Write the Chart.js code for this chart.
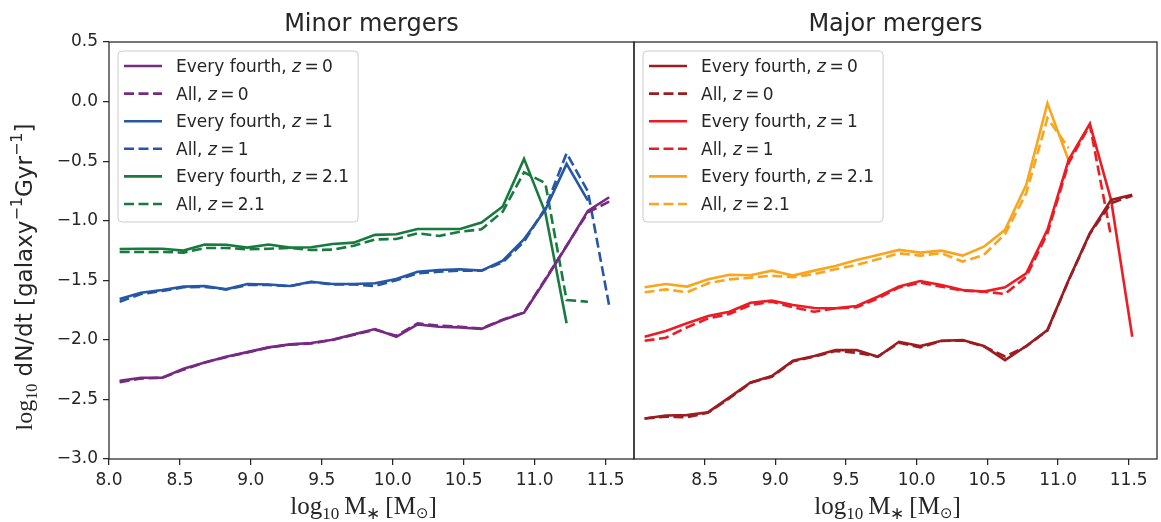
<!DOCTYPE html>
<html>
<head>
<meta charset="utf-8">
<script src="https://cdn.jsdelivr.net/npm/chart.js@4"></script>
<style>
  body { margin: 0; background: #fff; }
  #wrap { position: relative; width: 1161px; height: 522px; }
  .pane { position: absolute; top: 0; height: 522px; }
</style>
</head>
<body>
<div id="wrap">
  <div class="pane" style="left:0;width:640px"><canvas id="minorChart"></canvas></div>
  <div class="pane" style="left:620px;width:541px"><canvas id="majorChart"></canvas></div>
</div>
<script>
// stellar mass bins, log10 M*
const massBins = [8.075, 8.225, 8.375, 8.525, 8.675, 8.825, 8.975, 9.125, 9.275, 9.425, 9.575, 9.725,
  9.875, 10.025, 10.175, 10.325, 10.475, 10.625, 10.775, 10.925, 11.075, 11.225, 11.375, 11.525];

// minor mergers
const minorFourthZ0 = [-2.344, -2.318, -2.318, -2.243, -2.19, -2.142, -2.103, -2.063, -2.038, -2.027, -1.999, -1.954,
  -1.909, -1.974, -1.870, -1.89, -1.895, -1.909, -1.834, -1.772, -1.497, -1.212, -0.918, -0.803];
const minorAllZ0 = [-2.355, -2.325, -2.318, -2.25, -2.19, -2.145, -2.105, -2.065, -2.04, -2.03, -2.0, -1.958,
  -1.915, -1.965, -1.862, -1.88, -1.89, -1.905, -1.83, -1.77, -1.49, -1.21, -0.93, -0.84];
const minorFourthZ1 = [-1.657, -1.604, -1.581, -1.553, -1.548, -1.576, -1.531, -1.536, -1.548, -1.512, -1.531, -1.531,
  -1.525, -1.49, -1.428, -1.414, -1.408, -1.419, -1.335, -1.155, -0.909, -0.523, -0.831];
const minorAllZ1 = [-1.68, -1.615, -1.59, -1.559, -1.555, -1.576, -1.54, -1.54, -1.55, -1.515, -1.535, -1.535,
  -1.548, -1.50, -1.442, -1.428, -1.419, -1.419, -1.35, -1.175, -0.895, -0.433, -0.755, -1.713];
const minorFourthZ21 = [-1.237, -1.235, -1.235, -1.251, -1.20, -1.202, -1.226, -1.20, -1.226, -1.223, -1.195, -1.184,
  -1.119, -1.114, -1.069, -1.069, -1.069, -1.016, -0.881, -0.481, -0.932, -1.861];
const minorAllZ21 = [-1.262, -1.262, -1.262, -1.268, -1.229, -1.229, -1.24, -1.235, -1.229, -1.246, -1.243, -1.21,
  -1.157, -1.153, -1.105, -1.128, -1.092, -1.072, -0.923, -0.593, -0.685, -1.666, -1.68];

// major mergers
const majorFourthZ0 = [-2.66, -2.635, -2.632, -2.607, -2.483, -2.357, -2.304, -2.176, -2.136, -2.086, -2.086, -2.142,
  -2.016, -2.052, -2.007, -2.002, -2.052, -2.17, -2.052, -1.918, -1.497, -1.105, -0.825, -0.783];
const majorAllZ0 = [-2.66, -2.645, -2.65, -2.61, -2.49, -2.36, -2.31, -2.18, -2.14, -2.094, -2.108, -2.14,
  -2.025, -2.063, -2.01, -2.005, -2.055, -2.14, -2.055, -1.92, -1.5, -1.11, -0.853, -0.79];
const majorFourthZ1 = [-1.974, -1.926, -1.861, -1.80, -1.764, -1.688, -1.671, -1.708, -1.733, -1.736, -1.716, -1.638,
  -1.553, -1.506, -1.54, -1.581, -1.595, -1.559, -1.441, -1.077, -0.489, -0.187, -0.825, -1.974];
const majorAllZ1 = [-2.008, -1.982, -1.895, -1.82, -1.783, -1.708, -1.68, -1.727, -1.764, -1.736, -1.727, -1.652,
  -1.56, -1.52, -1.553, -1.587, -1.595, -1.615, -1.47, -1.105, -0.517, -0.195, -1.134];
const majorFourthZ21 = [-1.559, -1.531, -1.553, -1.492, -1.453, -1.458, -1.419, -1.461, -1.419, -1.38, -1.329, -1.287,
  -1.245, -1.268, -1.251, -1.293, -1.218, -1.077, -0.699, -0.015, -0.495];
const majorAllZ21 = [-1.601, -1.576, -1.601, -1.525, -1.492, -1.478, -1.461, -1.475, -1.447, -1.408, -1.371, -1.324,
  -1.273, -1.293, -1.273, -1.343, -1.287, -1.111, -0.769, -0.139, -0.391];

const redshifts = ['0', '1', '2.1'];
const xTicks = [8.0, 8.5, 9.0, 9.5, 10.0, 10.5, 11.0, 11.5];
const yTicks = [-3.0, -2.5, -2.0, -1.5, -1.0, -0.5, 0.0, 0.5];

const INK = '#262626';
Chart.defaults.font.family = 'DejaVu Sans';
Chart.defaults.font.size = 17;
Chart.defaults.color = INK;
Chart.defaults.animation = false;

function series(vals, color, dashed, prefix, z) {
  return {
    data: vals.map((v, i) => ({x: massBins[i], y: v})),
    borderColor: color,
    backgroundColor: color,
    borderWidth: 2.6,
    borderDash: dashed ? [10, 4.5] : [],
    pointRadius: 0,
    tension: 0,
    fill: false,
    prefix: prefix,
    zval: z
  };
}

// draws a list of text runs with their own fonts / offsets
function drawRuns(ctx, runs, x, y, center) {
  let w = 0;
  runs.forEach(r => { ctx.font = r.f; r.w = ctx.measureText(r.t).width; w += r.w; });
  let cx = center ? x - w / 2 : x;
  runs.forEach(r => {
    ctx.font = r.f;
    ctx.fillText(r.t, cx, y + (r.dy || 0));
    cx += r.w;
  });
  return w;
}

const decor = {
  id: 'decor',
  afterDraw(chart, args, o) {
    const ctx = chart.ctx, a = chart.chartArea;
    ctx.save();
    ctx.strokeStyle = INK;
    ctx.lineWidth = 1.25;
    ctx.strokeRect(a.left, a.top, a.right - a.left, a.bottom - a.top);
    ctx.fillStyle = INK;
    ctx.textBaseline = 'alphabetic';
    ctx.textAlign = 'left';
    const mid = (a.left + a.right) / 2;

    // panel title
    ctx.font = '24px DejaVu Sans';
    ctx.textAlign = 'center';
    ctx.fillText(o.title, mid, 31);
    ctx.textAlign = 'left';

    // x axis label
    const sf = 'Liberation Serif';
    drawRuns(ctx, [
      {t: 'log', f: '25px ' + sf},
      {t: '10', f: '17px ' + sf, dy: 5},
      {t: '\u2009M', f: '25px ' + sf},
      {t: '\u2217', f: '17px ' + sf, dy: 5},
      {t: '\u2009[M', f: '25px ' + sf},
      {t: '\u2299', f: '15px DejaVu Sans', dy: 4},
      {t: ']', f: '25px ' + sf}
    ], mid - 8, 514, true);

    // y axis label
    if (o.ylabel) {
      ctx.save();
      ctx.translate(32, 277);
      ctx.rotate(-Math.PI / 2);
      drawRuns(ctx, [
        {t: 'log', f: '24px ' + sf},
        {t: '10', f: '16px ' + sf, dy: 5},
        {t: ' dN/dt [galaxy', f: '23px DejaVu Sans'},
        {t: '\u22121', f: '16px DejaVu Sans', dy: -10},
        {t: 'Gyr', f: '23px DejaVu Sans'},
        {t: '\u22121', f: '16px DejaVu Sans', dy: -10},
        {t: ']', f: '23px DejaVu Sans'}
      ], 0, 0, true);
      ctx.restore();
    }

    // legend
    const rows = chart.data.datasets.map(ds => [
      {t: ds.prefix + ', ', f: '17px DejaVu Sans'},
      {t: 'z', f: 'oblique 17px DejaVu Sans'},
      {t: '\u2009=\u2009', f: '17px DejaVu Sans'},
      {t: ds.zval, f: '17px DejaVu Sans'}
    ]);
    let maxW = 0;
    rows.forEach(r => {
      let w = 0;
      r.forEach(p => { ctx.font = p.f; w += ctx.measureText(p.t).width; });
      maxW = Math.max(maxW, w);
    });
    const bx = o.legendX, by = 51, bw = 58 + maxW + 9, bh = 171;
    ctx.beginPath();
    ctx.roundRect(bx, by, bw, bh, 4);
    ctx.fillStyle = 'rgba(255,255,255,0.8)';
    ctx.fill();
    ctx.strokeStyle = '#cccccc';
    ctx.lineWidth = 1;
    ctx.stroke();
    chart.data.datasets.forEach((ds, i) => {
      const ry = 66 + 27.6 * i;
      ctx.beginPath();
      ctx.setLineDash(ds.borderDash);
      ctx.strokeStyle = ds.borderColor;
      ctx.lineWidth = 2.6;
      ctx.moveTo(bx + 6, ry);
      ctx.lineTo(bx + 44, ry);
      ctx.stroke();
      ctx.setLineDash([]);
      ctx.fillStyle = INK;
      drawRuns(ctx, rows[i], bx + 58, ry + 6, false);
    });
    ctx.restore();
  }
};

function fmt(v) {
  const s = Math.abs(v).toFixed(1);
  return v < -1e-9 ? '\u2212' + s : s;
}

function makeChart(id, datasets, isLeft) {
  const shownX = xTicks.filter(v => isLeft || v > 8.0);
  return new Chart(document.getElementById(id), {
    type: 'line',
    data: {datasets: datasets},
    plugins: [decor],
    options: {
      responsive: true,
      maintainAspectRatio: false,
      layout: {padding: {top: 42, right: isLeft ? 6 : 4, left: isLeft ? 0 : 14, bottom: 0}},
      plugins: {
        legend: {display: false},
        tooltip: {enabled: false},
        decor: {title: isLeft ? 'Minor mergers' : 'Major mergers', ylabel: isLeft, legendX: isLeft ? 118 : 23}
      },
      scales: {
        x: {
          type: 'linear',
          min: 8.0,
          max: 11.7,
          afterBuildTicks: ax => { ax.ticks = shownX.map(v => ({value: v})); },
          afterFit: ax => { ax.height = 63; },
          ticks: {padding: 5, maxRotation: 0, callback: v => v.toFixed(1)},
          grid: {drawOnChartArea: false, tickLength: 6, color: INK, lineWidth: 1.25},
          border: {display: false}
        },
        y: {
          display: isLeft,
          min: -3.0,
          max: 0.5,
          afterBuildTicks: ax => { ax.ticks = yTicks.map(v => ({value: v})); },
          afterFit: ax => { ax.width = isLeft ? 109 : 0; },
          ticks: {padding: 5, callback: v => fmt(v)},
          grid: {drawOnChartArea: false, tickLength: 6, color: INK, lineWidth: 1.25},
          border: {display: false}
        }
      }
    }
  });
}

makeChart('minorChart', [
  series(minorFourthZ0, '#762a83', false, 'Every fourth', redshifts[0]),
  series(minorAllZ0, '#762a83', true, 'All', redshifts[0]),
  series(minorFourthZ1, '#2656a6', false, 'Every fourth', redshifts[1]),
  series(minorAllZ1, '#2656a6', true, 'All', redshifts[1]),
  series(minorFourthZ21, '#177a3e', false, 'Every fourth', redshifts[2]),
  series(minorAllZ21, '#177a3e', true, 'All', redshifts[2])
], true);

makeChart('majorChart', [
  series(majorFourthZ0, '#9c1c20', false, 'Every fourth', redshifts[0]),
  series(majorAllZ0, '#9c1c20', true, 'All', redshifts[0]),
  series(majorFourthZ1, '#ec1c24', false, 'Every fourth', redshifts[1]),
  series(majorAllZ1, '#ec1c24', true, 'All', redshifts[1]),
  series(majorFourthZ21, '#f9a51d', false, 'Every fourth', redshifts[2]),
  series(majorAllZ21, '#f9a51d', true, 'All', redshifts[2])
], false);
</script>
</body>
</html>
